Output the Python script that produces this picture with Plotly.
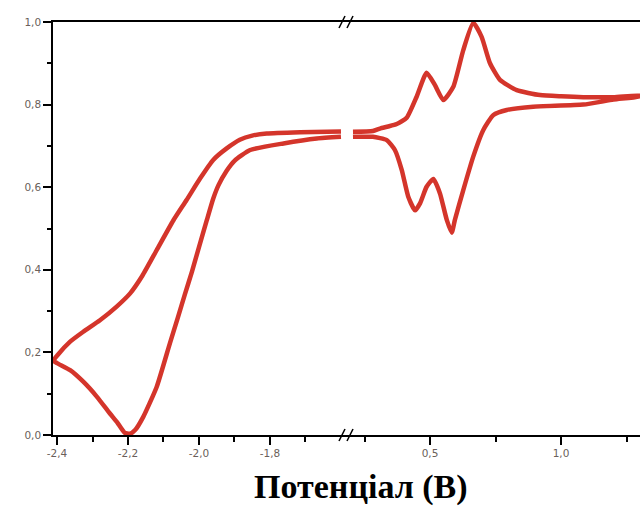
import plotly.graph_objects as go

# ---- data ----
# left segment (cathodic region), traced as one loop
left_x = [-1.600, -1.668, -1.762, -1.856, -1.900, -1.922, -1.945, -1.960, -1.978, -2.000,
          -2.020, -2.040, -2.060, -2.082, -2.119, -2.157, -2.180, -2.195, -2.210, -2.230,
          -2.251, -2.288, -2.326, -2.363, -2.400, -2.410,
          -2.400, -2.363, -2.326, -2.279, -2.232, -2.194, -2.160, -2.119, -2.072, -2.035,
          -1.997, -1.960, -1.922, -1.885, -1.850, -1.809, -1.715, -1.600]
left_y = [0.722, 0.718, 0.706, 0.690, 0.664, 0.640, 0.605, 0.572, 0.520, 0.455,
          0.395, 0.340, 0.283, 0.222, 0.117, 0.044, 0.012, 0.003, 0.006, 0.030,
          0.052, 0.093, 0.129, 0.157, 0.174, 0.180,
          0.192, 0.226, 0.250, 0.278, 0.311, 0.343, 0.385, 0.448, 0.520, 0.569,
          0.621, 0.666, 0.694, 0.715, 0.725, 0.730, 0.733, 0.735]

# right segment (anodic region)
right_x = [0.206, 0.282, 0.309, 0.340, 0.373, 0.411, 0.449, 0.487, 0.519, 0.551,
           0.589, 0.627, 0.665, 0.697, 0.729, 0.767, 0.831, 0.920, 1.000, 1.085,
           1.200, 1.300,
           1.300, 1.200, 1.085, 0.894, 0.793, 0.742, 0.703, 0.665, 0.627, 0.595,
           0.583, 0.564, 0.538, 0.513, 0.487, 0.462, 0.443, 0.417, 0.392, 0.366,
           0.335, 0.282, 0.206]
right_y = [0.734, 0.736, 0.742, 0.747, 0.753, 0.768, 0.819, 0.877, 0.847, 0.811,
           0.843, 0.932, 0.998, 0.964, 0.900, 0.860, 0.835, 0.823, 0.820, 0.818,
           0.818, 0.822,
           0.820, 0.812, 0.800, 0.795, 0.787, 0.775, 0.738, 0.674, 0.593, 0.521,
           0.490, 0.521, 0.585, 0.620, 0.601, 0.561, 0.544, 0.577, 0.642, 0.690,
           0.714, 0.722, 0.722]

left_tickvals = [-2.4, -2.2, -2.0, -1.8]
left_ticktext = ["-2,4", "-2,2", "-2,0", "-1,8"]
left_minor = [-2.3, -2.1, -1.9, -1.7]
right_tickvals = [0.5, 1.0]
right_ticktext = ["0,5", "1,0"]
right_minor = [0.25, 0.75, 1.25]
y_tickvals = [0.0, 0.2, 0.4, 0.6, 0.8, 1.0]
y_ticktext = ["0,0", "0,2", "0,4", "0,6", "0,8", "1,0"]
y_minor = [0.1, 0.3, 0.5, 0.7, 0.9]

x_title = "Потенціал (В)"

# ---- figure ----
W, H = 640, 506
ML, MR, MT, MB = 53, 0, 22, 71
pw, ph = W - ML - MR, H - MT - MB
brk_px = 347
brk = (brk_px - ML) / pw

red = "#d4352b"
tickfont = dict(family="DejaVu Sans, Verdana, sans-serif", size=10.5, color="#6a5f5a")

fig = go.Figure()
fig.add_trace(go.Scatter(x=left_x, y=left_y, mode="lines", xaxis="x", yaxis="y",
                         line=dict(color=red, width=4.5, shape="spline", smoothing=0.5),
                         showlegend=False, hoverinfo="skip"))
fig.add_trace(go.Scatter(x=right_x, y=right_y, mode="lines", xaxis="x2", yaxis="y",
                         line=dict(color=red, width=4.5, shape="spline", smoothing=0.5),
                         showlegend=False, hoverinfo="skip"))

axis_common = dict(showline=True, linecolor="black", linewidth=1.5, ticks="outside",
                   ticklen=8, tickwidth=1.5, tickcolor="black", showgrid=False,
                   zeroline=False, tickfont=tickfont, mirror=True)

fig.update_layout(
    width=W, height=H,
    margin=dict(l=ML, r=MR, t=MT, b=MB),
    paper_bgcolor="white", plot_bgcolor="white",
    xaxis=dict(domain=[0, brk], range=[-2.4113, -1.583], tickmode="array",
               tickvals=left_tickvals, ticktext=left_ticktext,
               minor=dict(tickmode="array", tickvals=left_minor, ticklen=5,
                          tickwidth=1.5, tickcolor="black", ticks="outside"),
               anchor="y", **axis_common),
    xaxis2=dict(domain=[brk, 1], range=[0.1832, 1.3015], tickmode="array",
                tickvals=right_tickvals, ticktext=right_ticktext,
                minor=dict(tickmode="array", tickvals=right_minor, ticklen=5,
                           tickwidth=1.5, tickcolor="black", ticks="outside"),
                anchor="y", **axis_common),
    yaxis=dict(domain=[0, 1], range=[0, 1.0], tickmode="array",
               tickvals=y_tickvals, ticktext=y_ticktext,
               minor=dict(tickmode="array", tickvals=y_minor, ticklen=4,
                          tickwidth=1.5, tickcolor="black", ticks="outside"),
               showline=True, linecolor="black", linewidth=1.5, ticks="outside",
               ticklen=8, tickwidth=1.5, tickcolor="black", showgrid=False,
               zeroline=False, tickfont=tickfont, mirror=False),
)

# axis-break marks "//"
def px2paper(px, py):
    return (px - ML) / pw, (MT + ph - py) / ph

shapes = []
for cy in (MT + ph, MT):
    for dx in (-5, 3):
        x0, y0 = px2paper(brk_px + dx - 3, cy + 6)
        x1, y1 = px2paper(brk_px + dx + 3, cy - 6)
        shapes.append(dict(type="line", xref="paper", yref="paper", x0=x0, y0=y0,
                           x1=x1, y1=y1, line=dict(color="black", width=1.5)))
fig.update_layout(shapes=shapes)

tx, ty = px2paper(361, 487)
fig.add_annotation(text="<b>" + x_title + "</b>", xref="paper", yref="paper",
                   x=tx, y=ty, xanchor="center", yanchor="middle", showarrow=False,
                   font=dict(family="Liberation Serif, Times New Roman, serif",
                             size=34, color="black"))

fig.write_html("out.html", config={"displayModeBar": False},
               post_script="document.body.style.margin='0';document.body.style.overflow='hidden';")
